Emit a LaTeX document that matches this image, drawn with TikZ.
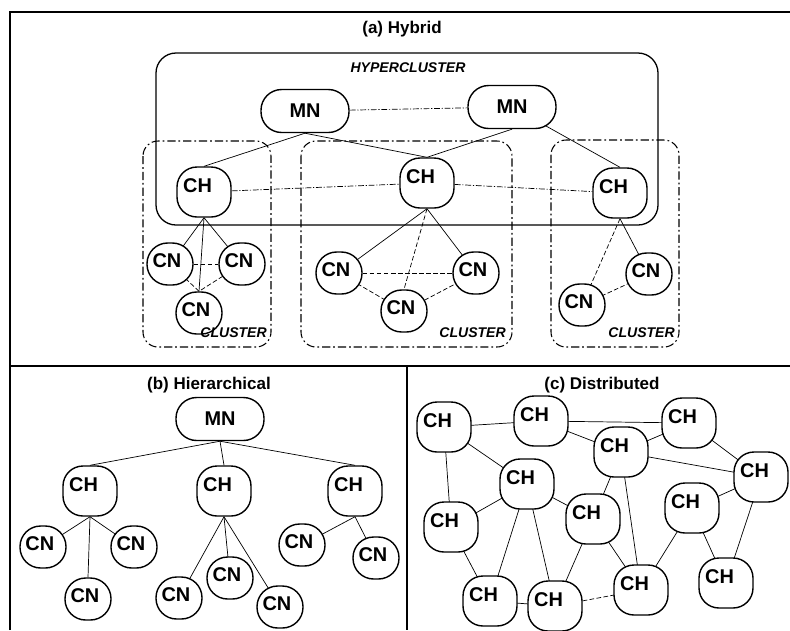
\documentclass[tikz,border=0pt]{standalone}
\usepackage{fontspec}
\setmainfont{Liberation Sans}
\usetikzlibrary{backgrounds}

\begin{document}
\begin{tikzpicture}[x=0.03cm,y=-0.03cm,
  nodebox/.style={draw,line width=1.2pt,fill=white,inner sep=1pt,font=\fontsize{17}{19}\selectfont\bfseries},
  chnode/.style={nodebox,minimum width=1.62cm,minimum height=1.5cm,rounded corners=0.6cm,text depth=0.4cm,text width=1.25cm,align=left},
  cnnode/.style={nodebox,minimum width=1.38cm,minimum height=1.26cm,rounded corners=0.62cm,text depth=0.2cm,text width=1.05cm,align=left},
  mnnode/.style={nodebox,minimum width=2.64cm,minimum height=1.29cm,rounded corners=0.62cm},
  wire/.style={line width=0.6pt},
  dwire/.style={wire,dash pattern=on 4pt off 2pt},
  ddwire/.style={wire,dash pattern=on 5pt off 1.5pt on 1pt off 1.5pt},
  panel/.style={line width=1.5pt},
  clusterbox/.style={line width=0.9pt,rounded corners=0.45cm,dash pattern=on 7pt off 2.5pt on 1.5pt off 2.5pt},
  hyperbox/.style={line width=1.1pt,rounded corners=0.6cm},
  paneltitle/.style={font=\fontsize{14.5}{17}\selectfont\bfseries},
  boxtag/.style={font=\fontsize{12}{14}\selectfont\bfseries\itshape,inner sep=0pt}]
\useasboundingbox (0,0) rectangle (790,630);
\draw[panel] (10,630) -- (10,12) -- (790,12);
\draw[panel] (10,366) -- (790,366);
\draw[panel] (407,366) -- (407,630);

\node[paneltitle] (a-title) at (402,29) {(a) Hybrid};
\draw[hyperbox] (156,53) rectangle (658,225);
\node[boxtag] (a-hyper) at (408,68) {HYPERCLUSTER};
\draw[clusterbox] (143,141) rectangle (271,347);
\draw[clusterbox] (301,141) rectangle (512,347);
\draw[clusterbox] (551,140) rectangle (679,347);
\node[mnnode] (a-mn1) at (305,111) {MN}; \node[mnnode] (a-mn2) at (512,107) {MN};
\node[chnode] (a-ch1) at (204,192) {CH}; \node[chnode] (a-ch2) at (427,183) {CH}; \node[chnode] (a-ch3) at (620,193) {CH};
\node[cnnode] (a-cn1) at (170,264) {CN}; \node[cnnode] (a-cn2) at (242,264) {CN}; \node[cnnode] (a-cn3) at (199,313) {CN};
\node[cnnode] (a-cn4) at (339,273) {CN}; \node[cnnode] (a-cn5) at (476,273) {CN}; \node[cnnode] (a-cn6) at (404,311) {CN};
\node[cnnode] (a-cn7) at (649,274) {CN}; \node[cnnode] (a-cn8) at (582,305) {CN};
\node[boxtag,anchor=east] (a-tag1) at (267,333) {CLUSTER};
\node[boxtag,anchor=east] (a-tag2) at (506,333) {CLUSTER};
\node[boxtag,anchor=east] (a-tag3) at (675,333) {CLUSTER};

\node[paneltitle] (b-title) at (209,385) {(b) Hierarchical};
\node[mnnode] (b-mn) at (220,419) {MN};
\node[chnode] (b-ch1) at (90,491) {CH}; \node[chnode] (b-ch2) at (224,491) {CH}; \node[chnode] (b-ch3) at (355,491) {CH};
\node[cnnode] (b-cn1) at (43,547) {CN}; \node[cnnode] (b-cn2) at (134,547) {CN}; \node[cnnode] (b-cn3) at (88,599) {CN};
\node[cnnode] (b-cn4) at (179,598) {CN}; \node[cnnode] (b-cn5) at (230,578) {CN}; \node[cnnode] (b-cn6) at (280,607) {CN};
\node[cnnode] (b-cn7) at (302,545) {CN}; \node[cnnode] (b-cn8) at (376,558) {CN};

\node[paneltitle] (c-title) at (602,385) {(c) Distributed};
\node[chnode] (c-1) at (444,427) {CH}; \node[chnode] (c-2) at (541,421) {CH}; \node[chnode] (c-3) at (689,423) {CH};
\node[chnode] (c-4) at (621,452) {CH}; \node[chnode] (c-5) at (761,477) {CH}; \node[chnode] (c-6) at (527,484) {CH};
\node[chnode] (c-7) at (451,527) {CH}; \node[chnode] (c-8) at (593,519) {CH}; \node[chnode] (c-9) at (692,508) {CH};
\node[chnode] (c-10) at (490,601) {CH}; \node[chnode] (c-11) at (555,606) {CH}; \node[chnode] (c-12) at (641,590) {CH};
\node[chnode] (c-13) at (726,583) {CH};

\begin{scope}[on background layer]
\draw[ddwire] (a-mn1) -- (a-mn2);
\draw[wire] (a-mn1.south) -- (a-ch1.north); \draw[wire] (a-mn1.south) -- (a-ch2.north);
\draw[wire] (a-mn2.south) -- (a-ch2.north); \draw[wire] (a-mn2.center) -- (a-ch3.north);
\draw[ddwire] (a-ch1) -- (a-ch2); \draw[ddwire] (a-ch2) -- (a-ch3);
\draw[wire] (a-ch1.south) -- (a-cn1.center); \draw[wire] (a-ch1.south) -- (a-cn2.center); \draw[wire] (a-ch1.south) -- (a-cn3.north);
\draw[dwire] (a-cn1) -- (a-cn2); \draw[dwire] (a-cn1.center) -- (a-cn3.north) -- (a-cn2.center);
\draw[wire] (a-ch2.south) -- (a-cn4.center); \draw[dwire] (a-ch2.south) -- (a-cn6.north); \draw[wire] (a-ch2.south) -- (a-cn5.center);
\draw[dwire] (a-cn4) -- (a-cn5); \draw[dwire] (a-cn4.center) -- (a-cn6.center) -- (a-cn5.center);
\draw[dwire] (a-ch3.south) -- (a-cn8.center); \draw[wire] (a-ch3.south) -- (a-cn7.center);
\draw[dwire] (a-cn8.center) -- (a-cn7.center);

\draw[wire] (b-mn.south) -- (b-ch1.north); \draw[wire] (b-mn.south) -- (b-ch2.north); \draw[wire] (b-mn.south) -- (b-ch3.north);
\draw[wire] (b-ch1.south) -- (b-cn1.center); \draw[wire] (b-ch1.south) -- (b-cn2.center); \draw[wire] (b-ch1.south) -- (b-cn3.north);
\draw[wire] (b-ch2.south) -- (b-cn4.center); \draw[wire] (b-ch2.south) -- (b-cn5.center); \draw[wire] (b-ch2.south) -- (b-cn6.center);
\draw[wire] (b-ch3.south) -- (b-cn7.center); \draw[wire] (b-ch3.south) -- (b-cn8.center);

\draw[wire] (c-1.center) -- (c-2.center); \draw[wire] (c-1.center) -- (c-7.center); \draw[wire] (c-1.center) -- (c-6.center);
\draw[wire] (c-2.center) -- (c-4.center); \draw[wire] (c-2.center) -- (c-3.center); \draw[wire] (c-3.center) -- (c-4.center);
\draw[wire] (c-3.center) -- (c-5.center); \draw[wire] (c-4.center) -- (c-5.center); \draw[wire] (c-4.center) -- (c-8.center);
\draw[wire] (c-4.center) -- (c-12.center); \draw[wire] (c-6.center) -- (c-7.center); \draw[wire] (c-6.center) -- (c-8.center);
\draw[wire] (c-6.center) -- (c-10.center); \draw[wire] (c-6.center) -- (c-11.center); \draw[wire] (c-7.center) -- (c-10.center);
\draw[wire] (c-8.center) -- (c-11.center); \draw[wire] (c-8.center) -- (c-12.center); \draw[wire] (c-9.center) -- (c-12.center);
\draw[wire] (c-9.center) -- (c-13.center); \draw[wire] (c-9.center) -- (c-5.center); \draw[wire] (c-5.center) -- (c-13.center);
\draw[wire] (c-10.center) -- (c-11.center); \draw[dwire] (c-11.center) -- (c-12.center);
\end{scope}
\end{tikzpicture}
\end{document}
